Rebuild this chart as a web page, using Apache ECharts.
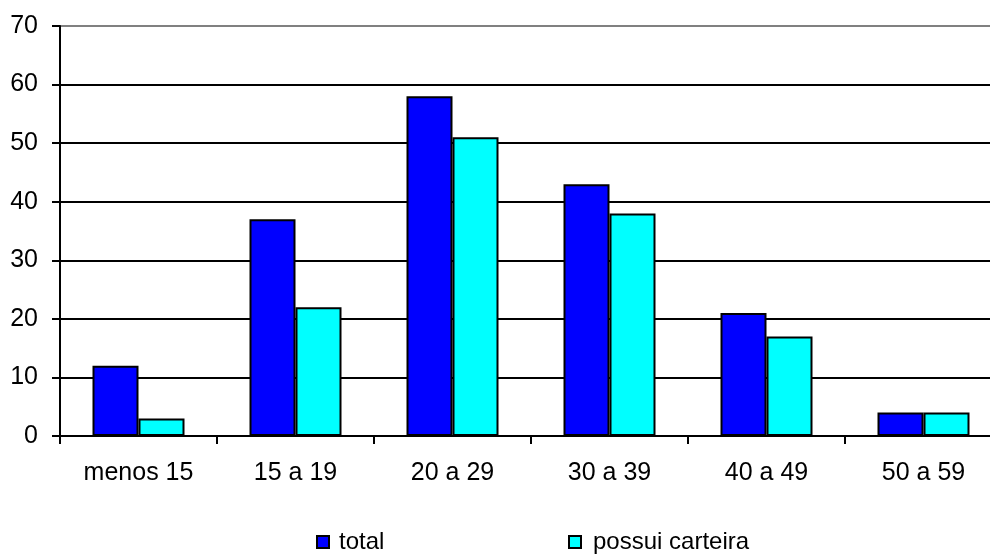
<!DOCTYPE html>
<html>
<head>
<meta charset="utf-8">
<script src="https://cdn.jsdelivr.net/npm/echarts@6/dist/echarts.min.js"></script>
<style>
html,body{margin:0;padding:0;background:#fff;overflow:hidden;}
#chart{width:1002px;height:554px;}
</style>
</head>
<body>
<div id="chart"></div>
<script>
var categories = ['menos 15', '15 a 19', '20 a 29', '30 a 39', '40 a 49', '50 a 59'];
var totalValues = [12, 37, 58, 43, 21, 4];
var carteiraValues = [3, 22, 51, 38, 17, 4];
var yTicks = { min: 0, max: 70, interval: 10 };

var FONT = '"Liberation Sans", Arial, sans-serif';
var chart = echarts.init(document.getElementById('chart'), null, { renderer: 'canvas' });
chart.setOption({
  animation: false,
  backgroundColor: '#ffffff',
  grid: { left: 60, top: 26, right: 0, bottom: 118, containLabel: false },
  legend: [
    {
      data: ['total'], left: 311, top: 525, icon: 'rect', itemWidth: 12, itemHeight: 12,
      textStyle: { fontFamily: FONT, fontSize: 24, color: '#000', padding: [0, 0, 0, 5] }
    },
    {
      data: ['possui carteira'], left: 563, top: 525, icon: 'rect', itemWidth: 12, itemHeight: 12,
      textStyle: { fontFamily: FONT, fontSize: 24, color: '#000', padding: [0, 0, 0, 7] }
    }
  ],
  xAxis: {
    type: 'category',
    data: categories,
    axisLine: { lineStyle: { color: '#000', width: 2 } },
    axisTick: { show: true, length: 8, lineStyle: { color: '#000', width: 2 } },
    axisLabel: { fontFamily: FONT, fontSize: 25, color: '#000', margin: 25 },
    splitLine: { show: false }
  },
  yAxis: {
    type: 'value',
    min: yTicks.min, max: yTicks.max, interval: yTicks.interval,
    axisLine: { show: true, lineStyle: { color: '#000', width: 2 } },
    axisTick: { show: true, length: 8, lineStyle: { color: '#000', width: 2 } },
    axisLabel: { fontFamily: FONT, fontSize: 25, color: '#000', margin: 22 },
    splitLine: { show: true, lineStyle: { color: ['#000','#000','#000','#000','#000','#000','#000','#808080'], width: 2 } }
  },
  series: [
    {
      name: 'total', type: 'bar', data: totalValues,
      barWidth: 46, barGap: '0%',
      itemStyle: { color: '#0000ff', borderColor: '#000', borderWidth: 2 }
    },
    {
      name: 'possui carteira', type: 'bar', data: carteiraValues,
      barWidth: 46, barGap: '0%',
      itemStyle: { color: '#00ffff', borderColor: '#000', borderWidth: 2 }
    }
  ]
});
</script>
</body>
</html>
